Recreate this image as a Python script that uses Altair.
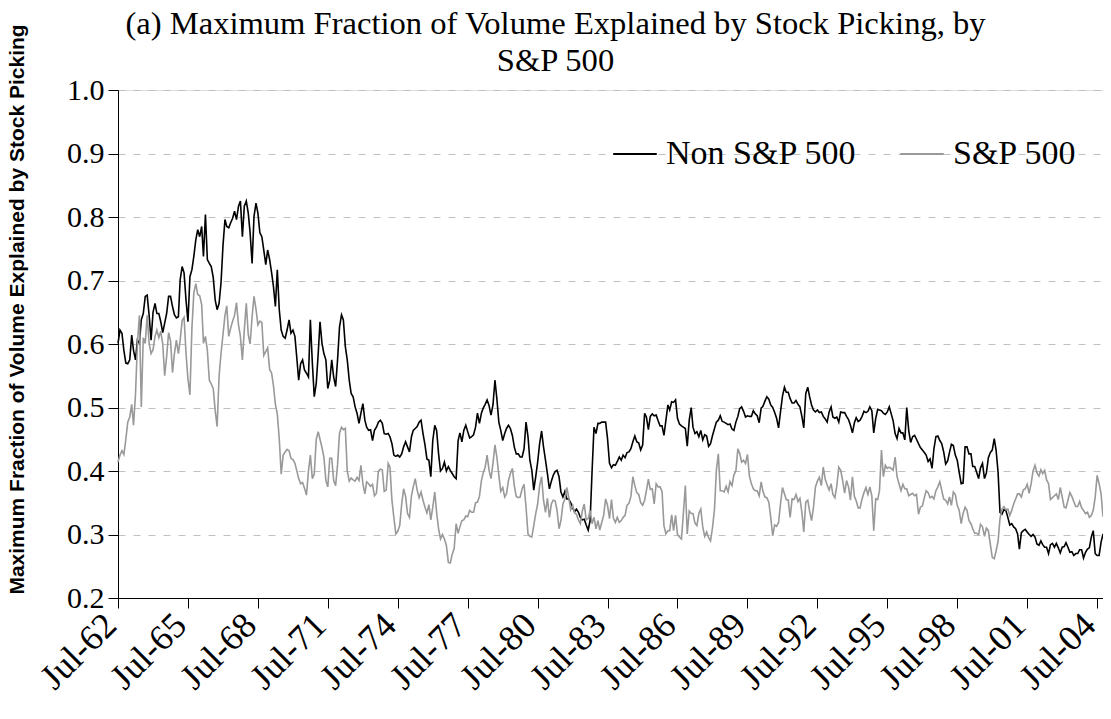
import altair as alt
import pandas as pd

# ---- data (monthly, starting Jul-1962) ----
series_names = ["Non S&P 500", "S&P 500"]
tick_years = [1962, 1965, 1968, 1971, 1974, 1977, 1980, 1983, 1986, 1989, 1992, 1995, 1998, 2001, 2004]
y_ticks = [0.2, 0.3, 0.4, 0.5, 0.6, 0.7, 0.8, 0.9, 1.0]
start_month = "1962-07-01"

non_sp = [
    0.601, 0.622, 0.617, 0.590, 0.570, 0.569, 0.575, 0.614, 0.590, 0.575, 0.606, 0.601,
    0.638, 0.648, 0.675, 0.677, 0.645, 0.606, 0.650, 0.664, 0.648, 0.648, 0.635, 0.618,
    0.633, 0.648, 0.675, 0.675, 0.659, 0.646, 0.641, 0.643, 0.701, 0.722, 0.712, 0.669,
    0.635, 0.706, 0.717, 0.738, 0.764, 0.780, 0.769, 0.785, 0.738, 0.804, 0.733, 0.727,
    0.722, 0.705, 0.669, 0.654, 0.664, 0.696, 0.755, 0.796, 0.785, 0.783, 0.791, 0.798,
    0.809, 0.796, 0.817, 0.825, 0.769, 0.817, 0.825, 0.806, 0.775, 0.727, 0.801, 0.822,
    0.806, 0.775, 0.769, 0.748, 0.725, 0.748, 0.733, 0.712, 0.691, 0.659, 0.717, 0.654,
    0.622, 0.612, 0.609, 0.622, 0.638, 0.617, 0.622, 0.612, 0.580, 0.543, 0.569, 0.575,
    0.559, 0.554, 0.548, 0.638, 0.570, 0.517, 0.538, 0.585, 0.635, 0.601, 0.585, 0.575,
    0.530, 0.543, 0.575, 0.548, 0.533, 0.575, 0.627, 0.646, 0.638, 0.596, 0.575, 0.543,
    0.522, 0.517, 0.501, 0.491, 0.475, 0.491, 0.506, 0.480, 0.469, 0.464, 0.465, 0.448,
    0.464, 0.469, 0.477, 0.480, 0.475, 0.459, 0.458, 0.459, 0.454, 0.443, 0.425, 0.423,
    0.425, 0.422, 0.427, 0.438, 0.446, 0.438, 0.430, 0.454, 0.464, 0.467, 0.470, 0.477,
    0.480, 0.459, 0.441, 0.419, 0.417, 0.391, 0.448, 0.472, 0.464, 0.427, 0.400, 0.404,
    0.414, 0.400, 0.407, 0.401, 0.396, 0.391, 0.388, 0.448, 0.460, 0.446, 0.464, 0.472,
    0.462, 0.452, 0.454, 0.457, 0.469, 0.491, 0.475, 0.491, 0.499, 0.505, 0.512, 0.503,
    0.488, 0.504, 0.543, 0.514, 0.477, 0.464, 0.448, 0.459, 0.467, 0.472, 0.467, 0.456,
    0.438, 0.427, 0.427, 0.422, 0.422, 0.435, 0.477, 0.454, 0.417, 0.401, 0.370, 0.391,
    0.414, 0.443, 0.463, 0.438, 0.417, 0.396, 0.372, 0.384, 0.393, 0.399, 0.401, 0.391,
    0.367, 0.359, 0.368, 0.356, 0.356, 0.350, 0.342, 0.336, 0.340, 0.335, 0.327, 0.323,
    0.324, 0.315, 0.307, 0.322, 0.400, 0.469, 0.459, 0.475, 0.475, 0.477, 0.477, 0.477,
    0.451, 0.412, 0.405, 0.410, 0.409, 0.415, 0.422, 0.417, 0.425, 0.421, 0.429, 0.430,
    0.435, 0.446, 0.455, 0.446, 0.444, 0.433, 0.441, 0.491, 0.485, 0.465, 0.486, 0.490,
    0.487, 0.488, 0.479, 0.471, 0.471, 0.456, 0.480, 0.504, 0.496, 0.509, 0.508, 0.512,
    0.483, 0.474, 0.471, 0.469, 0.467, 0.439, 0.480, 0.500, 0.469, 0.459, 0.462, 0.454,
    0.464, 0.449, 0.457, 0.455, 0.439, 0.443, 0.456, 0.467, 0.477, 0.480, 0.487, 0.478,
    0.477, 0.475, 0.473, 0.474, 0.466, 0.464, 0.477, 0.486, 0.498, 0.501, 0.494, 0.485,
    0.487, 0.486, 0.486, 0.495, 0.490, 0.487, 0.476, 0.499, 0.502, 0.510, 0.517, 0.513,
    0.504, 0.500, 0.492, 0.483, 0.468, 0.493, 0.518, 0.532, 0.524, 0.524, 0.514, 0.507,
    0.507, 0.511, 0.505, 0.501, 0.486, 0.468, 0.522, 0.532, 0.517, 0.504, 0.496, 0.493,
    0.496, 0.492, 0.493, 0.486, 0.482, 0.477, 0.493, 0.501, 0.485, 0.483, 0.485, 0.477,
    0.493, 0.492, 0.492, 0.486, 0.481, 0.472, 0.460, 0.476, 0.484, 0.478, 0.480, 0.486,
    0.494, 0.492, 0.494, 0.501, 0.495, 0.460, 0.483, 0.497, 0.496, 0.495, 0.491, 0.489,
    0.493, 0.501, 0.490, 0.479, 0.459, 0.451, 0.467, 0.460, 0.460, 0.449, 0.500, 0.464,
    0.445, 0.454, 0.456, 0.450, 0.443, 0.437, 0.433, 0.429, 0.425, 0.415, 0.419, 0.404,
    0.435, 0.454, 0.455, 0.448, 0.443, 0.430, 0.411, 0.416, 0.429, 0.442, 0.440, 0.425,
    0.417, 0.398, 0.380, 0.381, 0.438, 0.438, 0.427, 0.427, 0.407, 0.407, 0.398, 0.388,
    0.405, 0.412, 0.388, 0.397, 0.421, 0.429, 0.433, 0.451, 0.433, 0.398, 0.335, 0.332,
    0.339, 0.338, 0.327, 0.315, 0.317, 0.312, 0.309, 0.301, 0.277, 0.303, 0.306, 0.308,
    0.304, 0.300, 0.297, 0.300, 0.296, 0.285, 0.283, 0.290, 0.284, 0.280, 0.280, 0.270,
    0.284, 0.286, 0.280, 0.286, 0.279, 0.271, 0.280, 0.281, 0.287, 0.280, 0.272, 0.273,
    0.267, 0.270, 0.270, 0.276, 0.276, 0.263, 0.272, 0.277, 0.279, 0.296, 0.306, 0.270,
    0.267, 0.267, 0.288, 0.301,
]

sp500 = [
    0.414, 0.425, 0.432, 0.426, 0.450, 0.477, 0.485, 0.505, 0.472, 0.520, 0.600, 0.645,
    0.501, 0.610, 0.601, 0.645, 0.601, 0.585, 0.591, 0.612, 0.622, 0.610, 0.620, 0.600,
    0.550, 0.580, 0.618, 0.605, 0.555, 0.585, 0.606, 0.585, 0.606, 0.637, 0.642, 0.585,
    0.545, 0.520, 0.625, 0.680, 0.695, 0.678, 0.676, 0.662, 0.601, 0.612, 0.590, 0.543,
    0.537, 0.530, 0.495, 0.470, 0.550, 0.585, 0.615, 0.645, 0.660, 0.612, 0.625, 0.636,
    0.645, 0.665, 0.630, 0.612, 0.575, 0.622, 0.664, 0.615, 0.600, 0.643, 0.675, 0.655,
    0.630, 0.636, 0.634, 0.582, 0.588, 0.594, 0.560, 0.554, 0.535, 0.505, 0.490, 0.450,
    0.395, 0.425, 0.430, 0.434, 0.432, 0.420, 0.418, 0.412, 0.401, 0.388, 0.380, 0.382,
    0.373, 0.362, 0.400, 0.425, 0.388, 0.395, 0.450, 0.462, 0.450, 0.437, 0.422, 0.385,
    0.375, 0.420, 0.420, 0.385, 0.377, 0.410, 0.460, 0.469, 0.465, 0.467, 0.400, 0.384,
    0.389, 0.386, 0.384, 0.390, 0.385, 0.409, 0.380, 0.364, 0.383, 0.380, 0.376, 0.379,
    0.361, 0.365, 0.400, 0.403, 0.402, 0.368, 0.370, 0.412, 0.406, 0.354, 0.327, 0.301,
    0.305, 0.314, 0.348, 0.372, 0.360, 0.333, 0.327, 0.361, 0.375, 0.388, 0.370, 0.358,
    0.367, 0.354, 0.343, 0.334, 0.347, 0.323, 0.343, 0.367, 0.335, 0.309, 0.293, 0.300,
    0.293, 0.283, 0.256, 0.255, 0.269, 0.278, 0.317, 0.302, 0.312, 0.322, 0.323, 0.329,
    0.328, 0.338, 0.335, 0.335, 0.350, 0.351, 0.360, 0.385, 0.397, 0.406, 0.425, 0.401,
    0.388, 0.412, 0.441, 0.422, 0.393, 0.368, 0.374, 0.359, 0.364, 0.385, 0.396, 0.404,
    0.377, 0.360, 0.358, 0.359, 0.372, 0.379, 0.343, 0.301, 0.297, 0.296, 0.314, 0.333,
    0.348, 0.377, 0.391, 0.354, 0.335, 0.357, 0.327, 0.348, 0.354, 0.353, 0.338, 0.309,
    0.322, 0.348, 0.356, 0.374, 0.358, 0.339, 0.346, 0.334, 0.332, 0.323, 0.317, 0.337,
    0.348, 0.323, 0.325, 0.338, 0.317, 0.327, 0.309, 0.322, 0.307, 0.319, 0.330, 0.356,
    0.346, 0.325, 0.355, 0.326, 0.319, 0.327, 0.319, 0.322, 0.327, 0.330, 0.346, 0.349,
    0.360, 0.391, 0.377, 0.366, 0.363, 0.350, 0.346, 0.354, 0.369, 0.387, 0.371, 0.372,
    0.348, 0.380, 0.375, 0.375, 0.368, 0.314, 0.301, 0.306, 0.306, 0.331, 0.306, 0.330,
    0.300, 0.296, 0.293, 0.333, 0.377, 0.301, 0.337, 0.333, 0.333, 0.318, 0.314, 0.333,
    0.340, 0.312, 0.297, 0.304, 0.295, 0.290, 0.311, 0.340, 0.401, 0.427, 0.369, 0.369,
    0.367, 0.376, 0.367, 0.383, 0.377, 0.394, 0.400, 0.435, 0.428, 0.414, 0.417, 0.412,
    0.426, 0.392, 0.380, 0.372, 0.369, 0.369, 0.361, 0.383, 0.368, 0.359, 0.358, 0.351,
    0.327, 0.298, 0.315, 0.313, 0.319, 0.348, 0.374, 0.364, 0.355, 0.354, 0.327, 0.356,
    0.355, 0.363, 0.352, 0.357, 0.335, 0.304, 0.351, 0.354, 0.337, 0.322, 0.343, 0.375,
    0.384, 0.390, 0.377, 0.406, 0.387, 0.378, 0.370, 0.380, 0.363, 0.358, 0.376, 0.406,
    0.401, 0.385, 0.365, 0.385, 0.375, 0.354, 0.391, 0.360, 0.353, 0.342, 0.342, 0.356,
    0.366, 0.374, 0.363, 0.375, 0.361, 0.306, 0.356, 0.355, 0.369, 0.433, 0.391, 0.409,
    0.404, 0.406, 0.404, 0.401, 0.422, 0.391, 0.380, 0.369, 0.379, 0.372, 0.372, 0.361,
    0.363, 0.365, 0.361, 0.363, 0.332, 0.343, 0.345, 0.358, 0.369, 0.366, 0.358, 0.360,
    0.356, 0.369, 0.375, 0.383, 0.369, 0.356, 0.354, 0.348, 0.359, 0.346, 0.367, 0.363,
    0.346, 0.338, 0.317, 0.333, 0.343, 0.338, 0.322, 0.317, 0.309, 0.302, 0.302, 0.300,
    0.316, 0.312, 0.297, 0.310, 0.306, 0.285, 0.264, 0.262, 0.274, 0.289, 0.325, 0.340,
    0.344, 0.339, 0.340, 0.330, 0.338, 0.348, 0.356, 0.364, 0.364, 0.359, 0.370, 0.372,
    0.379, 0.365, 0.380, 0.400, 0.409, 0.397, 0.392, 0.402, 0.396, 0.401, 0.386, 0.380,
    0.355, 0.358, 0.361, 0.364, 0.355, 0.374, 0.359, 0.343, 0.342, 0.354, 0.366, 0.360,
    0.352, 0.344, 0.344, 0.352, 0.342, 0.338, 0.333, 0.335, 0.327, 0.330, 0.338, 0.359,
    0.393, 0.380, 0.364, 0.328,
]

# ---- build long table ----
n = min(len(non_sp), len(sp500))
dates = pd.date_range(start_month, periods=n, freq="MS")
df = pd.concat([
    pd.DataFrame({"date": dates, "value": non_sp[:n], "series": series_names[0]}),
    pd.DataFrame({"date": dates, "value": sp500[:n], "series": series_names[1]}),
])
last = dates[-1]

serif = "Liberation Serif"

chart = alt.Chart(df).mark_line(strokeWidth=1.6).encode(
    x=alt.X(
        "date:T",
        scale=alt.Scale(
            domain=[alt.DateTime(year=1962, month=7, date=1),
                    alt.DateTime(year=int(last.year), month=int(last.month), date=1)],
            nice=False,
        ),
        axis=alt.Axis(
            values=[alt.DateTime(year=y, month=7, date=1) for y in tick_years],
            format="%b-%y",
            labelAngle=-45,
            labelAlign="right",
            labelBaseline="alphabetic",
            labelPadding=19,
            labelFont=serif,
            labelFontSize=36,
            labelColor="black",
            labelFlush=False,
            labelOverlap=False,
            tickSize=10,
            tickColor="black",
            domainColor="black",
            grid=False,
            title=None,
        ),
    ),
    y=alt.Y(
        "value:Q",
        scale=alt.Scale(domain=[0.2, 1.0], nice=False, zero=False),
        axis=alt.Axis(
            values=y_ticks,
            format=".1f",
            labelFont=serif,
            labelFontSize=30,
            labelColor="black",
            labelPadding=4,
            labelFlush=False,
            labelOverlap=False,
            tickSize=10,
            tickColor="black",
            domainColor="black",
            grid=True,
            gridColor="#c0c0c0",
            gridDash=[7, 8],
            gridWidth=1,
            title="Maximum Fraction of Volume Explained by Stock Picking",
            titleFont="Liberation Sans",
            titleFontWeight="bold",
            titleFontSize=21,
            titleColor="black",
            titleX=-101,
            titleY=219,
            titleAngle=-90,
            titleAlign="center",
            titleBaseline="middle",
        ),
    ),
    color=alt.Color(
        "series:N",
        scale=alt.Scale(domain=series_names, range=["#000000", "#999999"]),
        legend=alt.Legend(
            title=None,
            orient="none",
            legendX=494,
            legendY=41,
            direction="horizontal",
            symbolType="stroke",
            symbolSize=1900,
            symbolStrokeWidth=1.8,
            labelFont=serif,
            labelFontSize=34,
            labelColor="black",
            labelOffset=8,
            labelLimit=0,
            columnPadding=39,
            padding=0,
        ),
    ),
).properties(
    width=985,
    height=508,
    autosize="none",
    padding={"left": 110, "top": 82, "right": 0, "bottom": 113},
    title=alt.Title(
        text=["(a) Maximum Fraction of Volume Explained by Stock Picking, by", "S&P 500"],
        font=serif,
        fontSize=32.6,
        fontWeight="normal",
        color="black",
        anchor="middle",
        frame="group",
        dx=-55,
        dy=68,
        offset=14,
        lineHeight=37,
    ),
).configure_view(stroke=None).configure(background="white")

chart.save("out.html", embed_options={"renderer": "svg", "actions": False})
